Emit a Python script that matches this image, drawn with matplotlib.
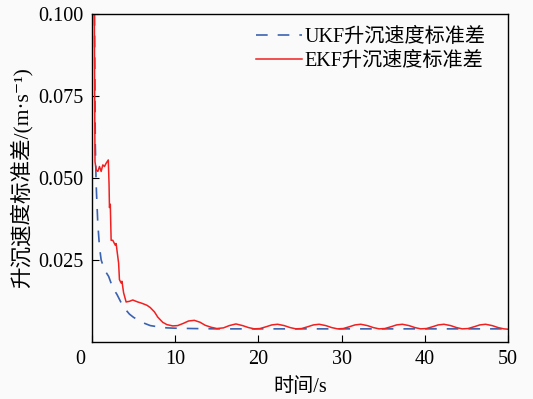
import matplotlib
matplotlib.use('Agg')
import matplotlib.pyplot as plt
import matplotlib.transforms as mtrans
import numpy as np

plt.rcParams['font.family'] = ['Liberation Serif', 'Noto Sans CJK SC', 'DejaVu Serif']

# UKF std (dashed blue)
t_ukf = [0.3, 0.4, 0.5, 0.7, 0.9, 1.1, 1.5, 2.0, 2.5, 3.0, 3.5, 4.0, 4.5,
         5.0, 5.5, 6.0, 7.0, 8.0, 9.0, 10.0, 12.0, 15.0, 20.0, 30.0, 40.0, 50.0]
y_ukf = [0.100, 0.060, 0.048, 0.036, 0.029, 0.025, 0.022, 0.020, 0.0165,
         0.0145, 0.012, 0.010, 0.0085, 0.0075, 0.0068, 0.006, 0.005, 0.0046,
         0.0043, 0.0042, 0.0041, 0.004, 0.004, 0.004, 0.004, 0.004]

# EKF std (solid red)
t_ekf = [0.28, 0.32, 0.36, 0.5, 0.7, 0.9, 1.1, 1.3, 1.5, 1.7, 1.96, 2.05,
         2.1, 2.2, 2.3, 2.5, 2.8, 2.9, 3.0, 3.2, 3.3, 3.5, 3.6, 3.8, 4.1,
         4.5, 4.9, 5.5, 6.0, 6.6, 7.0, 7.5, 7.9, 8.5, 9.0, 9.7, 10.3, 11.0,
         11.6, 12.3, 13.0, 13.6, 14.3, 15.0, 15.8, 16.5, 17.3, 18.1, 18.8,
         19.5, 20.2, 21.0, 21.6, 22.3, 23.1, 23.8, 24.5, 25.2, 26.0, 26.6,
         27.3, 28.1, 28.8, 29.5, 30.2, 31.0, 31.6, 32.3, 33.1, 33.8, 34.5,
         35.2, 36.0, 36.6, 37.3, 38.1, 38.8, 39.5, 40.2, 41.0, 41.6, 42.3,
         43.1, 43.8, 44.5, 45.2, 46.0, 46.6, 47.3, 48.1, 48.8, 49.5, 50.0]
y_ekf = [0.100, 0.075, 0.055, 0.0525, 0.052, 0.0535, 0.052, 0.054, 0.0535,
         0.0545, 0.0555, 0.048, 0.041, 0.042, 0.031, 0.031, 0.0295, 0.030,
         0.028, 0.024, 0.019, 0.018, 0.0185, 0.015, 0.0122, 0.0124, 0.0128,
         0.0122, 0.0118, 0.0112, 0.0105, 0.0092, 0.0076, 0.006, 0.0053,
         0.0049, 0.005, 0.0057, 0.0064, 0.0066, 0.006, 0.0051, 0.0045,
         0.0041, 0.0043, 0.005, 0.0055, 0.005, 0.0044, 0.004, 0.0041, 0.0047,
         0.0052, 0.0054, 0.005, 0.0044, 0.004, 0.0041, 0.0047, 0.0052,
         0.0054, 0.005, 0.0044, 0.004, 0.0041, 0.0047, 0.0052, 0.0054,
         0.005, 0.0044, 0.004, 0.0041, 0.0047, 0.0052, 0.0054, 0.005, 0.0044,
         0.004, 0.0041, 0.0047, 0.0052, 0.0054, 0.005, 0.0044, 0.004, 0.0041,
         0.0047, 0.0052, 0.0054, 0.005, 0.0044, 0.004, 0.0039]

xticks = [0, 10, 20, 30, 40, 50]
yticks = [0.025, 0.050, 0.075, 0.100]

fig = plt.figure(figsize=(5.33, 3.99), dpi=100, facecolor='#fafafa')
ax = fig.add_axes([0.1726, 0.1429, 0.7805, 0.822])
ax.set_facecolor('#fafafa')

ax.plot(t_ukf, y_ukf, color='#3a62b0', lw=1.2, ls=(0, (7, 6)), label='UKF升沉速度标准差')
ax.plot(t_ekf, y_ekf, color='#f02020', lw=1.1, label='EKF升沉速度标准差')

ax.set_xlim(0, 50)
ax.set_ylim(0, 0.1)
ax.set_xticks(xticks)
ax.set_yticks(yticks)
ax.set_yticklabels(['%.3f' % v for v in yticks])
ax.tick_params(direction='in', labelsize=14.5, length=5, width=0.8, pad=6)
ax.tick_params(axis='x', pad=6)
# the origin label sits left of the axis
shift = mtrans.ScaledTranslation(-12 / 100, 0, fig.dpi_scale_trans)
ax.get_xticklabels()[0].set_transform(ax.get_xticklabels()[0].get_transform() + shift)
for s in ax.spines.values():
    s.set_linewidth(1.0)

ax.set_xlabel('时间/s', fontsize=14.5, labelpad=6)
ax.set_ylabel('升沉速度标准差/(m·s⁻¹)', fontsize=15.5, labelpad=4)

ax.legend(loc='upper right', bbox_to_anchor=(0.979, 1.0), frameon=False,
          fontsize=14.5, handlelength=2.3, handletextpad=0.1,
          borderaxespad=0.3, labelspacing=0.25)

fig.savefig('out.png', dpi=100, facecolor=fig.get_facecolor())
